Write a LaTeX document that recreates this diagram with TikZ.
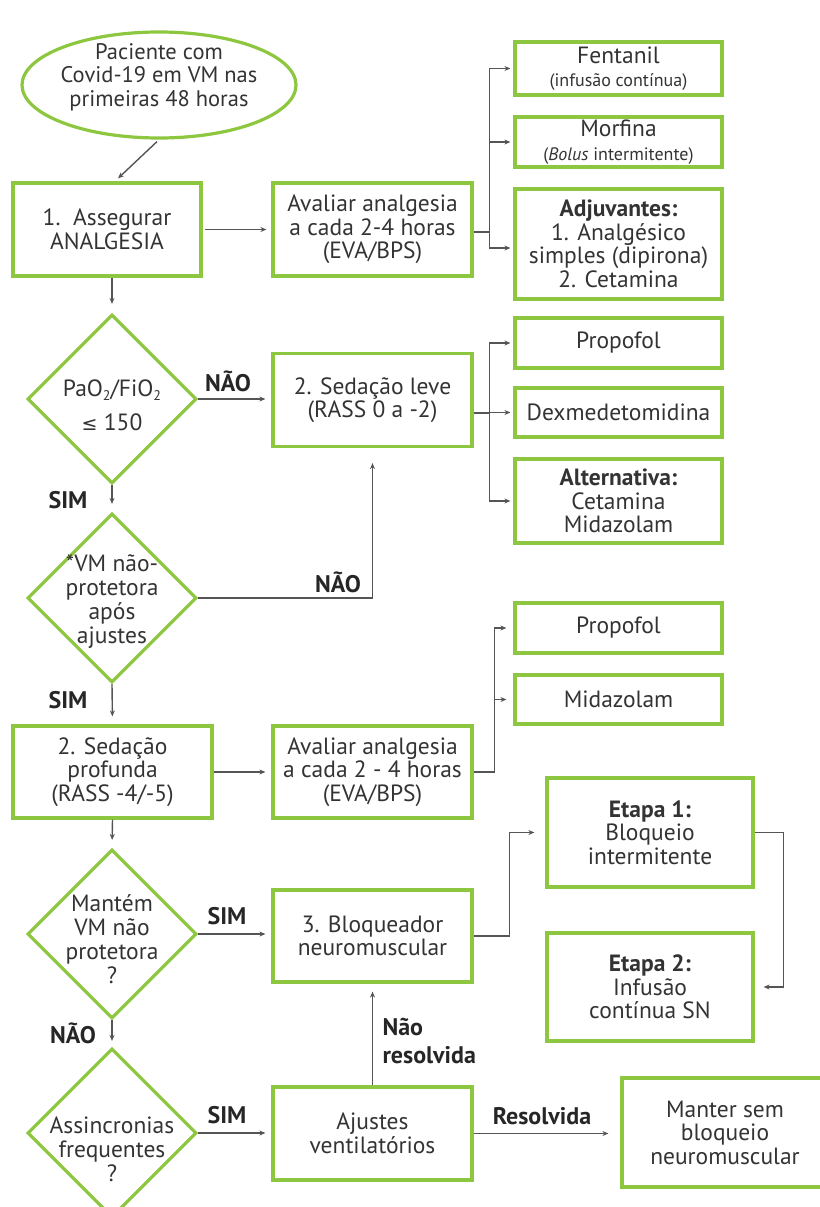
\documentclass[tikz,border=0pt]{standalone}
\usepackage{fontspec}
\setmainfont{PT Sans}
\newfontfamily\dejavu{DejaVu Sans}
\usetikzlibrary{shapes.geometric,arrows.meta,calc}
\definecolor{lgreen}{RGB}{141,198,63}
\definecolor{txtc}{RGB}{51,51,51}
\definecolor{arrc}{RGB}{85,85,85}
\newcommand{\fs}{\fontsize{23.5}{23.5}\selectfont}
\newcommand{\fsmall}{\fontsize{18}{20}\selectfont}
\newcommand{\subtwo}{\raisebox{-0.35ex}{\fontsize{14}{14}\selectfont 2}}
\begin{document}
\begin{tikzpicture}[x=1pt,y=-1pt,
  every node/.style={text=txtc},
  box/.style={draw=lgreen, line width=3.2pt, align=center, font=\fs, inner sep=0pt},
  mbox/.style={box, minimum width=199pt, minimum height=93pt},
  rbox/.style={box, minimum width=207pt},
  dia/.style={draw=lgreen, line width=3.2pt, diamond, aspect=1, minimum width=169pt, minimum height=169pt, inner sep=0pt},
  dtxt/.style={align=center, font=\fs},
  lbl/.style={font=\fontsize{24}{24}\selectfont\bfseries, text=black!85},
  arr/.style={draw=arrc, line width=1.4pt, -{Stealth[length=6pt,width=5pt]}},
  ln/.style={draw=arrc, line width=1.4pt},
]
\useasboundingbox (0,0) rectangle (819,1207);

% nodes
\node[draw=lgreen, line width=3.2pt, ellipse, minimum width=274pt, minimum height=106pt, inner sep=0pt] (start) at (159,85) {};
\node[align=center, font=\fontsize{22.5}{23.5}\selectfont] (startt) at (159,77) {Paciente com\\Covid-19 em VM nas\\primeiras 48 horas};
\node[box, minimum width=188pt, minimum height=93pt] (b1) at (107,229.5) {1.\ \ Assegurar\\ANALGESIA};
\node[mbox] (ava1) at (372.5,229.5) {Avaliar analgesia\\a cada 2-4 horas\\(EVA/BPS)};
\node[rbox, minimum height=53pt] (fent) at (618.5,68.5) {Fentanil\\{\fsmall (infusão contínua)}};
\node[rbox, minimum height=50pt] (morf) at (618.5,142) {Morfina\\{\fsmall (\textit{Bolus} intermitente)}};
\node[rbox, minimum height=110pt] (adj) at (618.5,244) {\textbf{Adjuvantes:}\\1. Analgésico\\simples (dipirona)\\2. Cetamina};

\node[dia] (d1) at (112,399) {};
\node[dtxt, font=\fontsize{23.5}{34}\selectfont] (d1t) at (112,405) {PaO\subtwo/FiO\subtwo\\{\dejavu\fontsize{19}{19}\selectfont ≤}~150};
\node[mbox] (sed) at (372.5,400) {2. Sedação leve\\(RASS 0 a -2)};
\node[rbox, minimum height=50pt] (prop1) at (618.5,343) {Propofol};
\node[rbox, minimum height=49pt] (dex) at (618.5,412.5) {Dexmedetomidina};
\node[rbox, minimum height=84pt] (alt) at (618.5,501) {\textbf{Alternativa:}\\Cetamina\\Midazolam};

\node[dia] (d2) at (112,598) {};
\node[dtxt, font=\fontsize{23.5}{24}\selectfont] (d2t) at (112,602) {*VM não-\\protetora\\após\\ajustes};

\node[box, minimum width=199pt, minimum height=92pt] (sp) at (112.5,772) {2. Sedação\\profunda\\(RASS -4/-5)};
\node[box, minimum width=199pt, minimum height=92pt] (ava2) at (372.5,772) {Avaliar analgesia\\a cada 2 - 4 horas\\(EVA/BPS)};
\node[rbox, minimum height=50pt] (prop2) at (618.5,628) {Propofol};
\node[rbox, minimum height=49pt] (mid) at (618.5,699.5) {Midazolam};

\node[dia] (d3) at (112,934) {};
\node[dtxt, font=\fontsize{23.5}{24}\selectfont] (d3t) at (112,939) {Mantém\\VM não\\protetora\\?};
\node[box, minimum width=199pt, minimum height=92pt] (bloq) at (372.5,936) {3. Bloqueador\\neuromuscular};
\node[box, minimum width=206pt, minimum height=109pt] (et1) at (650,832.5) {\textbf{Etapa 1:}\\Bloqueio\\intermitente};
\node[box, minimum width=206pt, minimum height=108pt] (et2) at (650,987) {\textbf{Etapa 2:}\\Infusão\\contínua SN};

\node[dia] (d4) at (112,1133) {};
\node[dtxt, font=\fontsize{23.5}{24}\selectfont] (d4t) at (112,1149) {Assincronias\\frequentes\\?};
\node[mbox] (aj) at (372.5,1133.5) {Ajustes\\ventilatórios};
\node[box, minimum width=206pt, minimum height=109pt] (man) at (725,1132.5) {Manter sem\\bloqueio\\neuromuscular};

% labels
\node[lbl] (l1) at (228,381) {NÃO};
\node[lbl] (l2) at (68,500) {SIM};
\node[lbl] (l3) at (338,582) {NÃO};
\node[lbl] (l4) at (68,700) {SIM};
\node[lbl] (l5) at (227,916) {SIM};
\node[lbl] (l6) at (73,1033) {NÃO};
\node[lbl] (l7) at (227,1115) {SIM};
\node[lbl, align=left, anchor=west, font=\fontsize{24}{28}\selectfont\bfseries] (l8) at (379,1041) {Não\\resolvida};
\node[lbl] (l9) at (542,1116) {Resolvida};

% connectors
\draw[arr] ([xshift=-2pt,yshift=-2pt]start.south) -- ([xshift=11pt,yshift=3pt]b1.north);
\draw[arr, shorten <=2pt, shorten >=5pt] (b1.east) -- (b1.east -| ava1.west);
\draw[ln] (ava1.east) ++(0,2.5) -- ++(16,0) coordinate (j1);
\draw[arr, shorten >=3pt] (j1) |- (fent.west);
\draw[arr, shorten >=3pt] (j1) |- (morf.west);
\draw[arr, shorten >=3pt] (j1) |- ([yshift=-4pt]adj.west);

\draw[arr, shorten >=9pt] (d1.north |- b1.south) -- (d1.north);
\draw[arr, shorten >=6pt] (d1.east) -- (d1.east -| sed.west);
\draw[ln] (sed.east) ++(0,13) -- ++(16,0) coordinate (j2);
\draw[arr, shorten >=3pt] (j2) |- (prop1.west);
\draw[arr, shorten >=3pt] (j2) |- (dex.west);
\draw[arr, shorten >=3pt] (j2) |- (alt.west);

\draw[arr, shorten >=8pt] (d1.south) -- (d2.north);
\draw[arr, shorten >=15pt] (d2.east) -| (sed.south);
\draw[arr, shorten >=8pt] (d2.south) -- (sp.north);

\draw[arr, shorten >=6pt] (sp.east) -- (ava2.west);
\draw[ln] (ava2.east) -- ++(21,0) coordinate (j3);
\draw[arr, shorten >=7pt] (j3) |- (prop2.west);
\draw[arr, shorten >=7pt] (j3) |- (mid.west);

\draw[arr, shorten >=8pt] (sp.south) -- (d3.north);
\draw[arr, shorten >=6pt] (d3.east) -- (d3.east -| bloq.west);
\draw[arr, shorten >=6pt] (d3.south) -- (d4.north);
\draw[arr, shorten >=6pt] (d4.east) -- (d4.east -| aj.west);
\draw[arr, shorten >=8pt] (aj.north) -- (bloq.south);
\draw[arr, shorten >=12pt] (aj.east) -- (aj.east -| man.west);
\draw[arr, shorten >=11pt] (bloq.east) -- ++(36,0) |- (et1.west);
\draw[arr, shorten >=9pt] (et1.east) -- ++(29,0) |- (et2.east);
\end{tikzpicture}
\end{document}
